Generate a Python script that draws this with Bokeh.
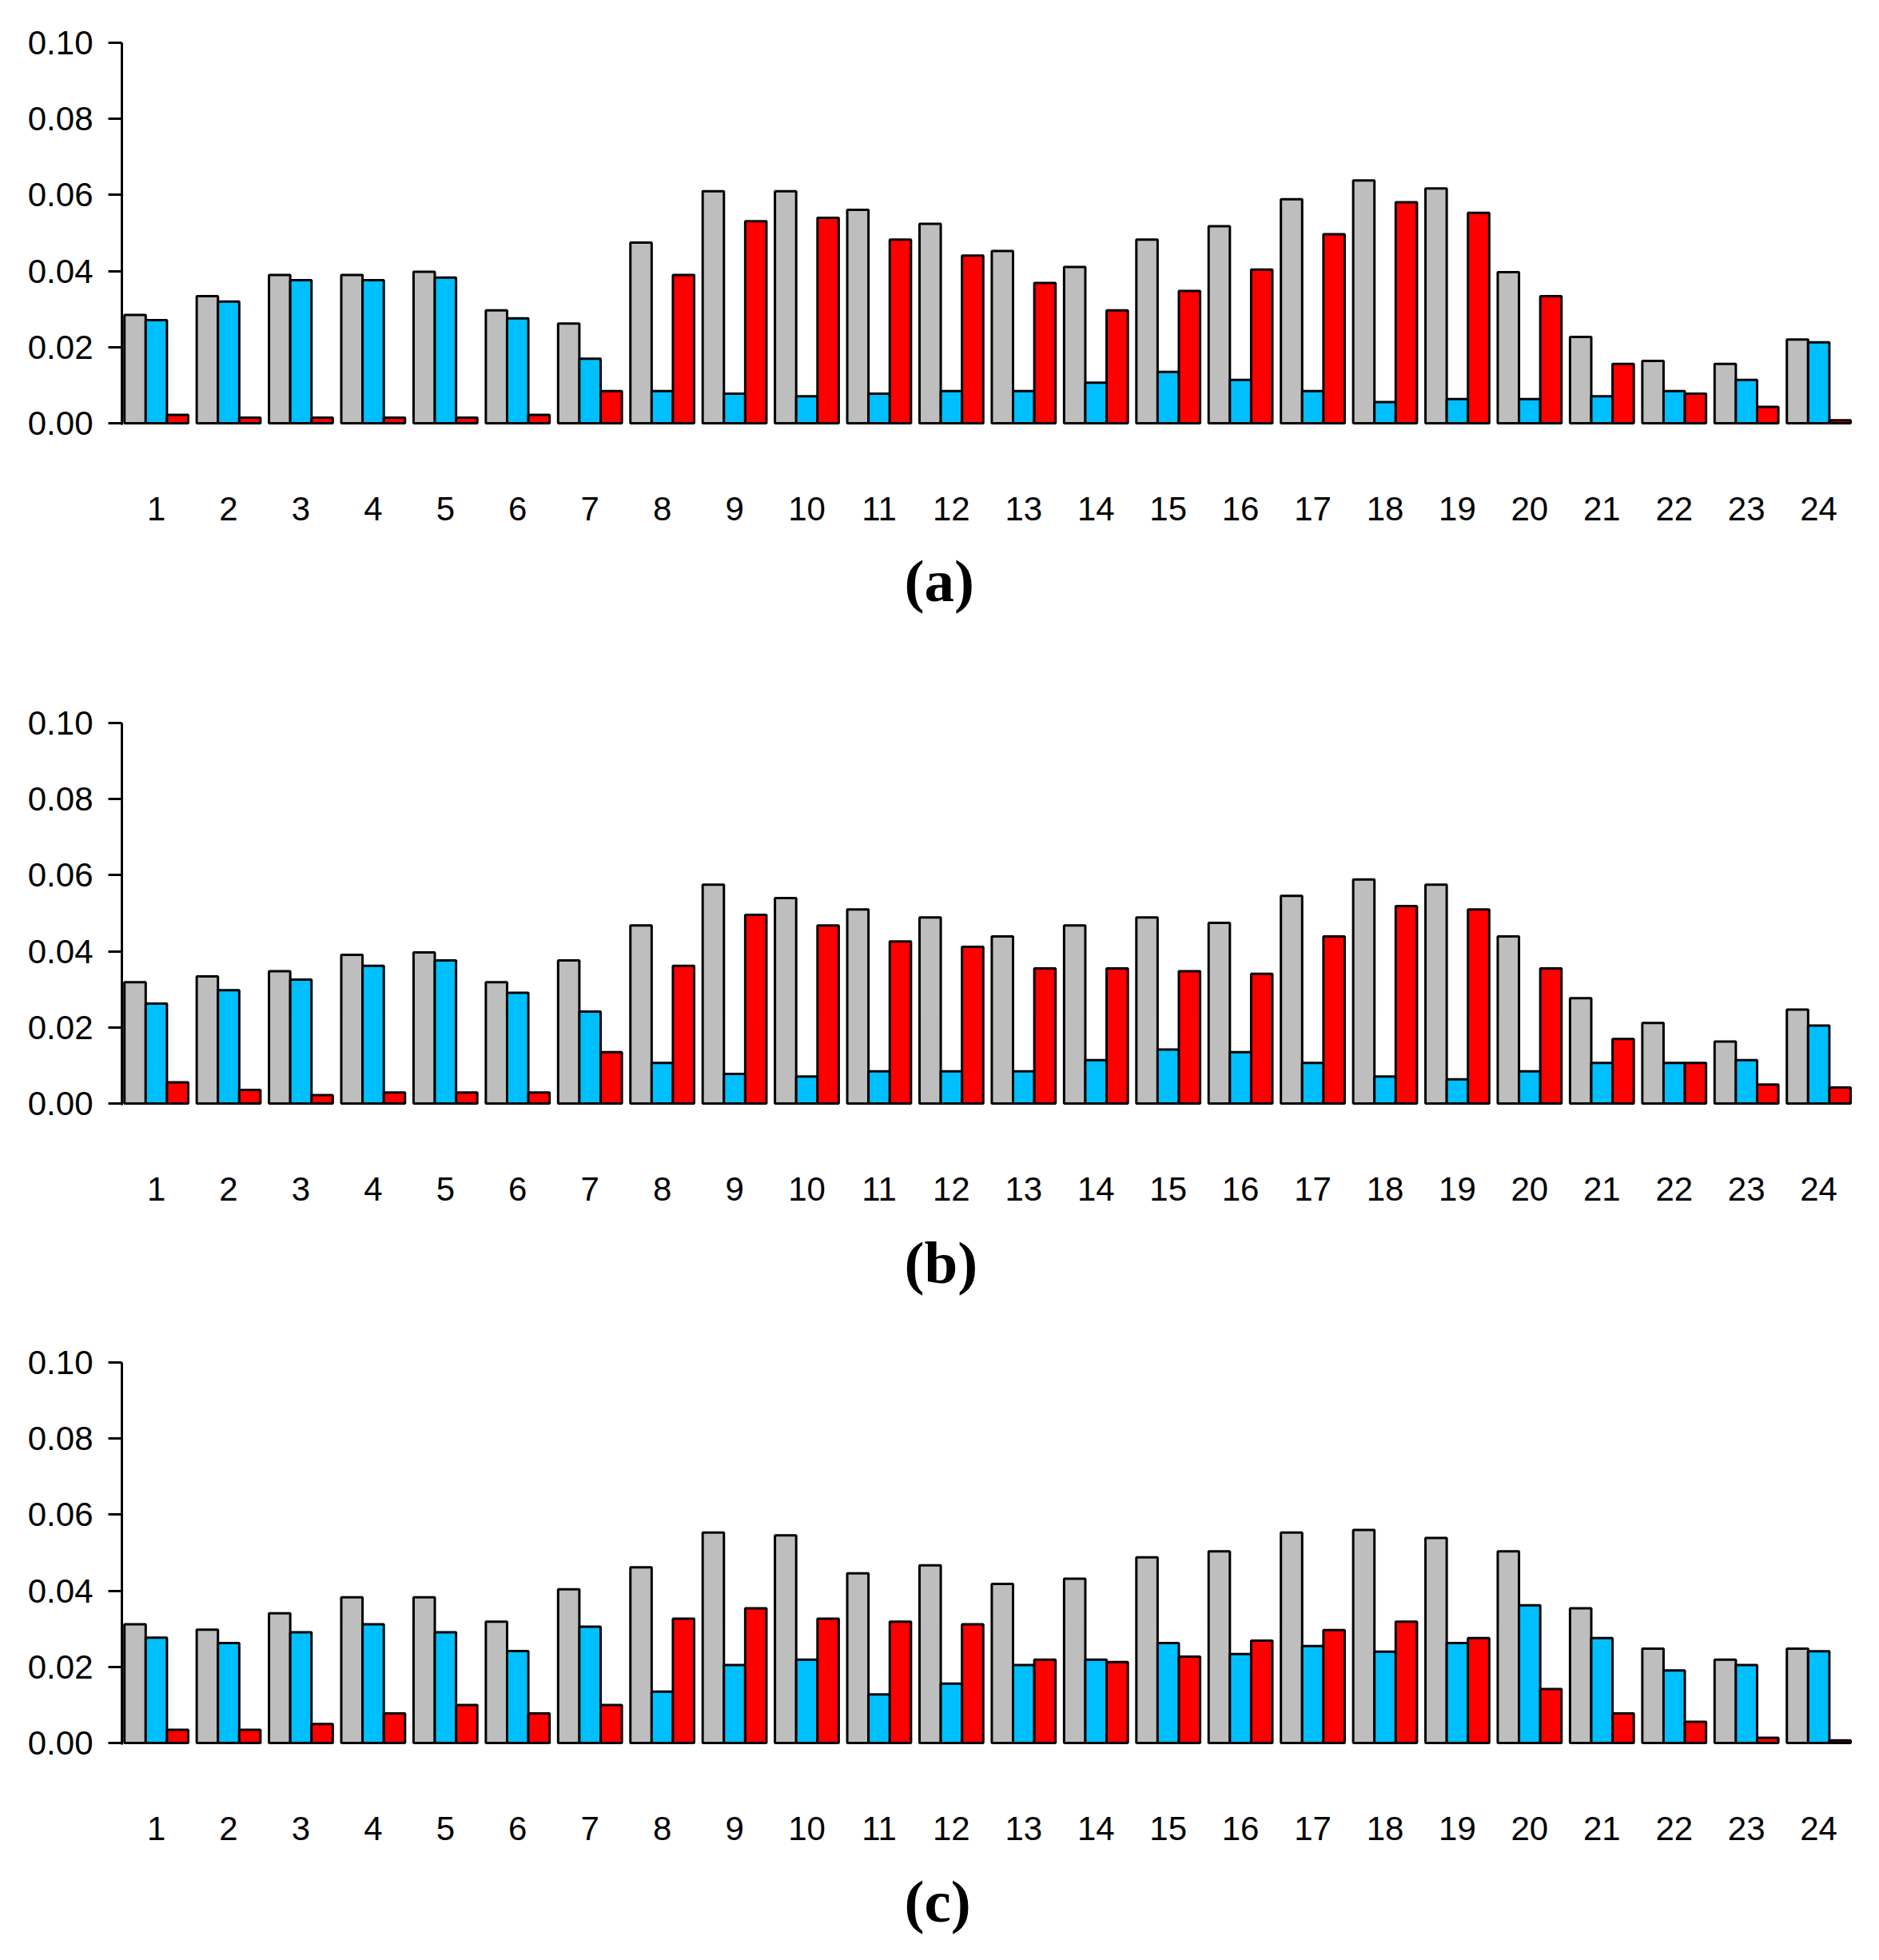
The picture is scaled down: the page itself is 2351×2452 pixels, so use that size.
from bokeh.plotting import figure
from bokeh.models import Range1d, FixedTicker, PrintfTickFormatter, Title
from bokeh.layouts import column
from bokeh.embed import file_html
from bokeh.resources import INLINE

hours = [str(i) for i in range(1, 25)]
yticks = [0.0, 0.02, 0.04, 0.06, 0.08, 0.10]
colors = ["#BEBEBE", "#00BFFF", "#FF0000"]

grey_a = [0.0285, 0.0334, 0.0390, 0.0390, 0.0398, 0.0297, 0.0262, 0.0475, 0.0610, 0.0610, 0.0561, 0.0524,
          0.0453, 0.0411, 0.0483, 0.0518, 0.0589, 0.0638, 0.0617, 0.0397, 0.0227, 0.0164, 0.0156, 0.0220]
blue_a = [0.0271, 0.0320, 0.0376, 0.0376, 0.0383, 0.0276, 0.0170, 0.0085, 0.0078, 0.0071, 0.0078, 0.0085,
          0.0085, 0.0107, 0.0135, 0.0114, 0.0085, 0.0056, 0.0064, 0.0064, 0.0071, 0.0085, 0.0114, 0.0213]
red_a = [0.0022, 0.0015, 0.0015, 0.0015, 0.0015, 0.0022, 0.0085, 0.0390, 0.0531, 0.0540, 0.0483, 0.0441,
         0.0369, 0.0297, 0.0348, 0.0404, 0.0497, 0.0581, 0.0553, 0.0334, 0.0156, 0.0078, 0.0043, 0.0008]

grey_b = [0.0319, 0.0334, 0.0348, 0.0391, 0.0397, 0.0319, 0.0376, 0.0468, 0.0575, 0.0540, 0.0510, 0.0489,
          0.0439, 0.0468, 0.0489, 0.0475, 0.0546, 0.0589, 0.0575, 0.0439, 0.0277, 0.0212, 0.0163, 0.0247]
blue_b = [0.0263, 0.0298, 0.0326, 0.0362, 0.0376, 0.0291, 0.0242, 0.0107, 0.0078, 0.0071, 0.0085, 0.0085,
          0.0085, 0.0114, 0.0142, 0.0135, 0.0107, 0.0071, 0.0064, 0.0085, 0.0107, 0.0107, 0.0114, 0.0205]
red_b = [0.0056, 0.0036, 0.0022, 0.0029, 0.0029, 0.0029, 0.0135, 0.0362, 0.0496, 0.0468, 0.0426, 0.0412,
         0.0355, 0.0355, 0.0348, 0.0341, 0.0439, 0.0519, 0.0510, 0.0355, 0.0170, 0.0107, 0.0050, 0.0042]

grey_c = [0.0312, 0.0298, 0.0341, 0.0383, 0.0383, 0.0319, 0.0404, 0.0462, 0.0553, 0.0546, 0.0446, 0.0467,
          0.0418, 0.0432, 0.0488, 0.0504, 0.0553, 0.0560, 0.0539, 0.0504, 0.0354, 0.0248, 0.0219, 0.0248]
blue_c = [0.0277, 0.0263, 0.0291, 0.0312, 0.0291, 0.0242, 0.0306, 0.0135, 0.0205, 0.0219, 0.0128, 0.0156,
          0.0205, 0.0219, 0.0263, 0.0234, 0.0255, 0.0240, 0.0263, 0.0362, 0.0276, 0.0191, 0.0205, 0.0241]
red_c = [0.0035, 0.0035, 0.0050, 0.0078, 0.0100, 0.0078, 0.0100, 0.0327, 0.0354, 0.0327, 0.0319, 0.0312,
         0.0219, 0.0213, 0.0227, 0.0269, 0.0297, 0.0319, 0.0276, 0.0142, 0.0078, 0.0056, 0.0014, 0.0007]

# label, series, figure height, top border, title standoff
panels = [
    ("(a)", [grey_a, blue_a, red_a], 860, 53, 59),
    ("(b)", [grey_b, blue_b, red_b], 800, 44, 63),
    ("(c)", [grey_c, blue_c, red_c], 792, 44, 61),
]

GROUP = 3.4   # 3 bars + 0.4 space
FRAME_W = 2167
FRAME_H = 478
LEFT = 152
RIGHT = 12


def make_panel(label, series, height, top, title_standoff):
    p = figure(width=LEFT + FRAME_W + RIGHT, height=height, output_backend="svg", toolbar_location=None,
               x_range=Range1d(-0.12, 81.35), y_range=Range1d(-0.0004, 0.1),
               min_border_left=LEFT, min_border_right=RIGHT, min_border_top=top,
               min_border_bottom=height - top - FRAME_H)
    p.outline_line_color = None
    p.xgrid.grid_line_color = None
    p.ygrid.grid_line_color = None
    p.background_fill_color = "white"
    p.border_fill_color = "white"

    for k, vals in enumerate(series):
        xs = [g * GROUP + k + 0.5 for g in range(len(vals))]
        p.vbar(x=xs, top=vals, bottom=0, width=1.0, fill_color=colors[k],
               line_color="black", line_width=3)

    centers = [g * GROUP + 1.5 for g in range(len(hours))]
    p.xaxis.ticker = FixedTicker(ticks=centers)
    p.xaxis.major_label_overrides = {c: h for c, h in zip(centers, hours)}
    p.xaxis.axis_line_color = None
    p.xaxis.major_tick_line_color = None
    p.xaxis.minor_tick_line_color = None
    p.xaxis.major_tick_out = 0
    p.xaxis.major_tick_in = 0
    p.xaxis.major_label_standoff = 90
    p.xaxis.major_label_text_font = "Liberation Sans"
    p.xaxis.major_label_text_font_size = "42px"
    p.xaxis.major_label_text_color = "black"

    p.yaxis.ticker = FixedTicker(ticks=yticks)
    p.yaxis.formatter = PrintfTickFormatter(format="%.2f")
    p.yaxis.axis_line_color = "black"
    p.yaxis.axis_line_width = 3
    p.yaxis.major_tick_line_color = "black"
    p.yaxis.major_tick_line_width = 3
    p.yaxis.major_tick_out = 17
    p.yaxis.major_tick_in = 0
    p.yaxis.minor_tick_line_color = None
    p.yaxis.major_label_standoff = 19
    p.yaxis.major_label_text_font = "Liberation Sans"
    p.yaxis.major_label_text_font_size = "42px"
    p.yaxis.major_label_text_color = "black"

    t = Title(text=label, align="left", offset=979, standoff=title_standoff,
              text_font="Liberation Serif", text_font_style="bold",
              text_font_size="75px", text_color="black")
    p.add_layout(t, "below")
    return p


figs = [make_panel(*args) for args in panels]
layout = column(*figs, spacing=0)
open("out.html", "w").write(file_html(layout, INLINE))
